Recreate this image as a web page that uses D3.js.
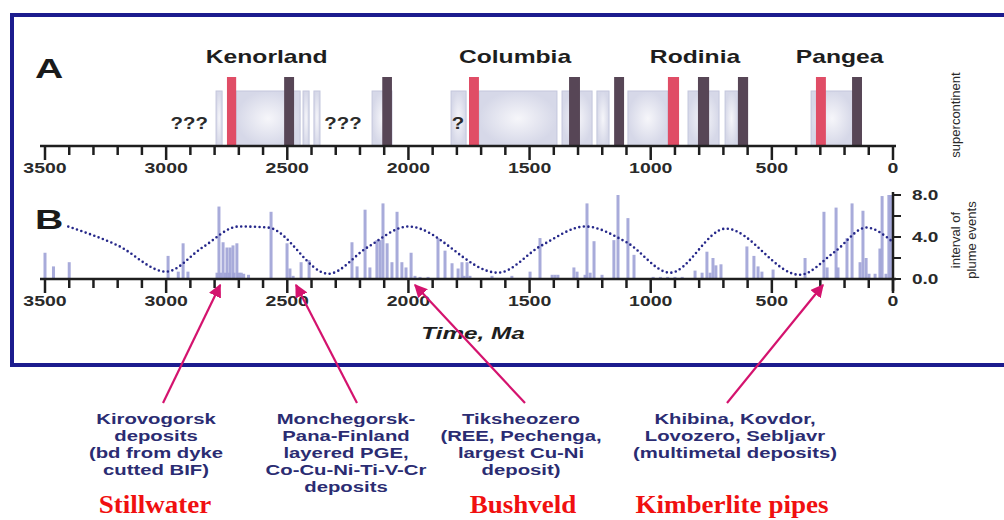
<!DOCTYPE html>
<html>
<head>
<meta charset="utf-8">
<script src="https://cdn.jsdelivr.net/npm/d3@7"></script>
<style>
  body { margin: 0; background: #fff; }
  svg { display: block; font-family: "Liberation Sans", Arial, sans-serif; }
</style>
</head>
<body>
<script>
// panel A: supercontinent intervals (Ma)
const supercontinents = [
  {name: "Kenorland", age: 2585},
  {name: "Columbia", age: 1560},
  {name: "Rodinia", age: 817},
  {name: "Pangea", age: 220}
];
const boxes = [[2794, 2769], [2711, 2447], [2435, 2410], [2390, 2365], [2150, 2068],
               [1824, 1762], [1709, 1387], [1366, 1242], [1222, 1172], [1094, 929],
               [846, 718], [693, 640], [338, 165]];
const red_bars = [[2749, 2711], [1750, 1709], [929, 883], [318, 277]];
const dark_bars = [[2513, 2472], [2108, 2068], [1337, 1292], [1151, 1110], [805, 759], [640, 598], [169, 128]];
const question_marks = [{text: "???", age: 2905}, {text: "???", age: 2270}, {text: "?", age: 1795}];

// panel B: plume events, [age Ma, interval]
const plume_ages = [3500, 3465, 3400, 2992, 2950, 2930, 2910,
  2790, 2782, 2775, 2765, 2755, 2749, 2740, 2736, 2724, 2720, 2708, 2700, 2690, 2680, 2660,
  2567, 2501, 2489, 2476, 2443, 2410,
  2233, 2212, 2179, 2159, 2130, 2117, 2105, 2088, 2068, 2047, 2027, 2010, 1989, 1973, 1952, 1919,
  1878, 1849, 1820, 1795, 1779, 1770, 1758, 1746, 1655, 1573, 1498, 1457, 1407, 1395, 1383,
  1317, 1304, 1271, 1263, 1250, 1234, 1201, 1152, 1135, 1094, 1069, 990, 960, 930, 900, 870,
  817, 788, 768, 755, 743, 731, 710, 603, 574, 557, 541, 495, 363,
  285, 272, 235, 227, 190, 169, 136, 124, 111, 99, 74, 54, 45, 29, 17, 8];
const plume_values = [2.5, 1.2, 1.6, 2.2, 0.7, 3.4, 0.7,
  0.6, 6.9, 0.6, 3.5, 0.6, 3.0, 0.6, 3.0, 3.2, 0.6, 3.4, 0.6, 0.6, 0.5, 0.4,
  6.4, 3.4, 1.0, 0.3, 1.6, 1.8,
  3.5, 1.2, 6.6, 1.1, 3.7, 3.7, 7.2, 3.4, 1.6, 6.4, 1.6, 1.1, 2.5, 0.3, 0.2, 0.2,
  3.9, 2.7, 1.5, 1.0, 1.6, 0.3, 1.6, 0.3, 0.3, 0.3, 0.7, 3.9, 0.4, 0.4, 0.4,
  1.1, 0.7, 0.4, 7.2, 0.6, 3.6, 0.4, 3.7, 8.0, 5.8, 2.3, 0.2, 0.2, 0.2, 0.2, 0.2,
  0.8, 0.6, 2.6, 0.6, 2.0, 1.3, 1.4, 3.1, 2.2, 1.2, 0.7, 0.9, 2.0,
  6.4, 1.1, 6.8, 1.1, 3.9, 7.2, 1.6, 6.5, 2.0, 0.5, 0.5, 2.9, 7.9, 0.5, 8.0, 8.0];
// dotted cyclic curve
const cycle_ages = [3405, 3200, 3000, 2850, 2700, 2580, 2330, 2170, 2000, 1630, 1450, 1270, 1100, 920, 690, 385, 240, 110, 10];
const cycle_values = [5.0, 3.2, 0.7, 3.0, 5.0, 4.9, 0.5, 3.0, 5.0, 0.6, 3.2, 5.0, 3.5, 0.6, 4.8, 0.4, 2.6, 4.9, 3.7];

const x_ticks = d3.range(0, 3501, 100);
const y_ticks = [0, 2, 4, 6, 8];
const y_labels = [0, 4, 8];

// annotations: deposits pointed at on the time axis
const deposits = [
  {age: 2777, lines: ["Kirovogorsk", "deposits", "(bd from dyke", "cutted BIF)"], tx: 156, ax: 163},
  {age: 2464, lines: ["Monchegorsk-", "Pana-Finland", "layered PGE,", "Co-Cu-Ni-Ti-V-Cr", "deposits"], tx: 346, ax: 357},
  {age: 1973, lines: ["Tiksheozero", "(REE, Pechenga,", "largest Cu-Ni", "deposit)"], tx: 521, ax: 525},
  {age: 289, lines: ["Khibina, Kovdor,", "Lovozero, Sebljavr", "(multimetal deposits)"], tx: 735, ax: 727}
];
const big_labels = [{text: "Stillwater", x: 155}, {text: "Bushveld", x: 523}, {text: "Kimberlite pipes", x: 732}];

const width = 1004;
const height = 520;
const axisA_y = 146;
const axisB_y = 279;
const axis_color = "#1e1e1e";
const navy = "#2b2c72";

let svg = d3.select("body").append("svg")
        .attr("width", width)
        .attr("height", height);

let defs = svg.append("defs");
let grad = defs.append("radialGradient").attr("id", "boxgrad");
grad.append("stop").attr("offset", "0%").attr("stop-color", "#f6f6fa");
grad.append("stop").attr("offset", "100%").attr("stop-color", "#d6d8e8");

let x = d3.scaleLinear().domain([3500, 0]).range([45, 893]);
let y = d3.scaleLinear().domain([0, 8]).range([axisB_y, 195]);

// the original lettering is stretched sideways
let place = function(px, py, sx){
  return "translate(" + px + "," + py + ") scale(" + sx + ",1)";
};

// frame
svg.append("path")
  .attr("d", "M1010,15 L12,15 L12,365 L1010,365")
  .attr("fill", "none")
  .attr("stroke", "#1c1c8e")
  .attr("stroke-width", 4);

// ---- panel A ----
svg.append("text").attr("transform", place(35, 78, 1.4)).text("A")
  .attr("font-size", 28).attr("font-weight", "bold").attr("fill", "#1a1a1a");

svg.selectAll(".box").data(boxes).enter().append("rect")
  .attr("class", "box")
  .attr("x", d => x(d[0]))
  .attr("width", d => x(d[1]) - x(d[0]))
  .attr("y", 91)
  .attr("height", axisA_y - 91)
  .attr("fill", "url(#boxgrad)")
  .attr("stroke", "#c3c6dc")
  .attr("stroke-width", 1);

svg.selectAll(".redbar").data(red_bars).enter().append("rect")
  .attr("class", "redbar")
  .attr("x", d => x(d[0]))
  .attr("width", d => x(d[1]) - x(d[0]))
  .attr("y", 77)
  .attr("height", axisA_y - 77)
  .attr("fill", "#e04d66");

svg.selectAll(".darkbar").data(dark_bars).enter().append("rect")
  .attr("class", "darkbar")
  .attr("x", d => x(d[0]))
  .attr("width", d => x(d[1]) - x(d[0]))
  .attr("y", 77)
  .attr("height", axisA_y - 77)
  .attr("fill", "#574656");

svg.selectAll(".sc").data(supercontinents).enter().append("text")
  .attr("transform", d => place(x(d.age), 63, 1.37))
  .attr("text-anchor", "middle")
  .attr("font-size", 18)
  .attr("font-weight", "bold")
  .attr("fill", "#1e1e1e")
  .text(d => d.name);

svg.selectAll(".qm").data(question_marks).enter().append("text")
  .attr("transform", d => place(x(d.age), 129, 1.2))
  .attr("text-anchor", "middle")
  .attr("font-size", 17)
  .attr("font-weight", "bold")
  .attr("fill", "#2a2a2a")
  .text(d => d.text);

let draw_time_axis = function(y0){
  let g = svg.append("g").attr("transform", "translate(0," + y0 + ")");
  g.append("line").attr("x1", 40).attr("x2", 896)
    .attr("stroke", axis_color).attr("stroke-width", 2.5);
  g.selectAll(".tick").data(x_ticks).enter().append("line")
    .attr("x1", d => x(d)).attr("x2", d => x(d))
    .attr("y1", 0)
    .attr("y2", d => d % 500 === 0 ? 14 : 9)
    .attr("stroke", axis_color)
    .attr("stroke-width", 2.5);
  g.selectAll(".lab").data(x_ticks.filter(d => d % 500 === 0)).enter().append("text")
    .attr("transform", d => place(x(d), 27, 1.3))
    .attr("text-anchor", "middle")
    .attr("font-size", 15)
    .attr("font-weight", "bold")
    .attr("fill", "#2a2a2a")
    .text(d => d);
};
draw_time_axis(axisA_y);

svg.append("text")
  .attr("transform", "translate(960,115) rotate(-90)")
  .attr("text-anchor", "middle")
  .attr("font-size", 13)
  .attr("fill", "#2a2a2a")
  .text("supercontinent");

// ---- panel B ----
svg.append("text").attr("transform", place(35, 229, 1.4)).text("B")
  .attr("font-size", 28).attr("font-weight", "bold").attr("fill", "#1a1a1a");

let plume = plume_ages.map((a, i) => ({age: a, value: plume_values[i]}));
svg.selectAll(".plume").data(plume).enter().append("rect")
  .attr("class", "plume")
  .attr("x", d => x(d.age) - 1.5)
  .attr("width", 3)
  .attr("y", d => y(d.value))
  .attr("height", d => axisB_y - y(d.value))
  .attr("fill", "#9ea2d6")
  .attr("opacity", 0.9);

let cycle = cycle_ages.map((a, i) => [a, cycle_values[i]]);
let line = d3.line()
  .x(d => x(d[0]))
  .y(d => y(d[1]))
  .curve(d3.curveMonotoneX);
svg.append("path")
  .datum(cycle.slice().reverse())
  .attr("d", line)
  .attr("fill", "none")
  .attr("stroke", "#26288a")
  .attr("stroke-width", 2.6)
  .attr("stroke-linecap", "round")
  .attr("stroke-dasharray", "0,4.6");

draw_time_axis(axisB_y);

// right value axis
let y_axis = svg.append("g").attr("transform", "translate(893,0)");
y_axis.append("line").attr("y1", 192).attr("y2", axisB_y + 12)
  .attr("stroke", axis_color).attr("stroke-width", 2.5);
y_axis.selectAll(".yt").data(y_ticks).enter().append("line")
  .attr("x1", 0).attr("x2", 8)
  .attr("y1", d => y(d)).attr("y2", d => y(d))
  .attr("stroke", axis_color).attr("stroke-width", 2);
y_axis.selectAll(".yl").data(y_labels).enter().append("text")
  .attr("transform", d => place(19, y(d) + 5, 1.27))
  .attr("font-size", 15)
  .attr("font-weight", "bold")
  .attr("fill", "#2a2a2a")
  .text(d => d.toFixed(1));

svg.append("text")
  .attr("transform", "translate(960,240) rotate(-90)")
  .attr("text-anchor", "middle")
  .attr("font-size", 13)
  .attr("fill", "#2a2a2a")
  .text("interval of");
svg.append("text")
  .attr("transform", "translate(976,240) rotate(-90)")
  .attr("text-anchor", "middle")
  .attr("font-size", 13)
  .attr("fill", "#2a2a2a")
  .text("plume events");

svg.append("text")
  .attr("transform", place(473, 339, 1.43))
  .attr("text-anchor", "middle")
  .attr("font-size", 17)
  .attr("font-weight", "bold")
  .attr("font-style", "italic")
  .attr("fill", "#1e1e1e")
  .text("Time, Ma");

// ---- annotations ----
defs.append("marker")
  .attr("id", "head")
  .attr("viewBox", "0 0 10 10")
  .attr("refX", 9).attr("refY", 5)
  .attr("markerWidth", 6).attr("markerHeight", 6)
  .attr("markerUnits", "strokeWidth")
  .attr("orient", "auto")
  .append("path").attr("d", "M0,0 L10,5 L0,10 z").attr("fill", "#d4136e");

svg.selectAll(".arrow").data(deposits).enter().append("line")
  .attr("x1", d => d.ax).attr("y1", 403)
  .attr("x2", d => x(d.age)).attr("y2", axisB_y + 6)
  .attr("stroke", "#d4136e")
  .attr("stroke-width", 2.2)
  .attr("marker-end", "url(#head)");

deposits.forEach(function(d){
  let t = svg.append("text")
    .attr("transform", place(d.tx, 0, 1.4))
    .attr("text-anchor", "middle")
    .attr("font-size", 14.5)
    .attr("font-weight", "bold")
    .attr("fill", navy);
  d.lines.forEach(function(s, i){
    t.append("tspan").attr("x", 0).attr("y", 424 + i * 17).text(s);
  });
});

svg.selectAll(".big").data(big_labels).enter().append("text")
  .attr("transform", d => place(d.x, 513, 1.04))
  .attr("text-anchor", "middle")
  .attr("font-family", "'Liberation Serif', 'Times New Roman', serif")
  .attr("font-size", 26)
  .attr("font-weight", "bold")
  .attr("fill", "#f01010")
  .text(d => d.text);
</script>
</body>
</html>
